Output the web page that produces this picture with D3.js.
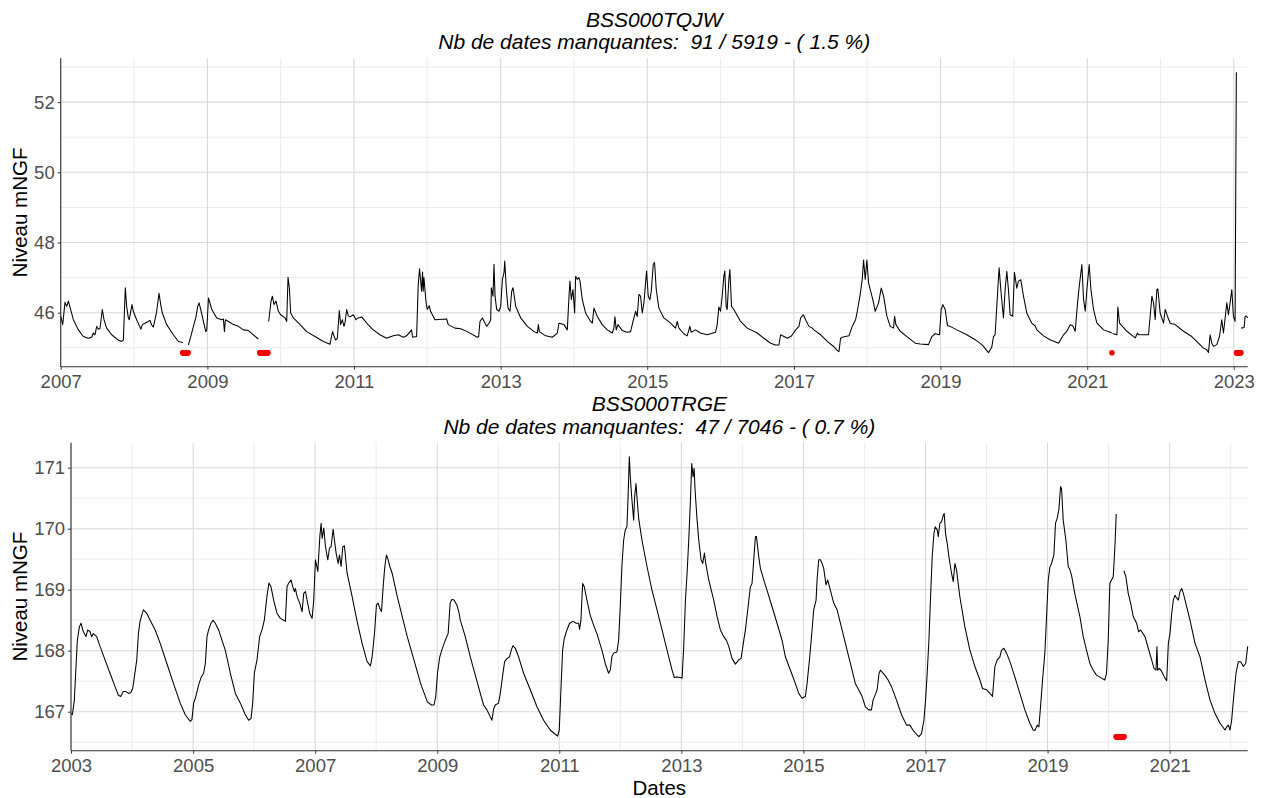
<!DOCTYPE html>
<html>
<head>
<meta charset="utf-8">
<script src="https://cdn.jsdelivr.net/npm/d3@7"></script>
<style>
  html, body { margin: 0; padding: 0; background: #fff; }
  svg { display: block; font-family: "Liberation Sans", Arial, sans-serif; }
  .ptitle { font-style: italic; font-size: 21px; fill: #000; white-space: pre; }
  .atitle { font-size: 20.5px; fill: #000; }
  .tick text { font-size: 18.5px; fill: #4d4d4d; font-family: "Liberation Sans", Arial, sans-serif; }
</style>
</head>
<body>
<svg id="chart" width="1262" height="798"></svg>
<script>
// ---------------- DATA ----------------
// Station BSS000TQJW : [decimal year, level mNGF]; null = break in the record
const tqjwSeries = [
[2007.000,45.91],[2007.027,45.66],[2007.059,46.30],[2007.082,46.18],[2007.105,46.33],[2007.118,46.23],[2007.136,46.09],[2007.173,45.80],[2007.241,45.51],[2007.309,45.32],[2007.377,45.27],[2007.423,45.30],[2007.445,45.42],[2007.468,45.37],[2007.491,45.61],[2007.514,45.53],[2007.536,45.55],[2007.568,46.09],[2007.591,45.80],[2007.627,45.56],[2007.695,45.37],[2007.786,45.22],[2007.832,45.18],[2007.855,45.22],[2007.868,45.94],[2007.882,46.71],[2007.900,46.18],[2007.923,45.85],[2007.936,45.80],[2007.973,46.23],[2007.991,46.04],[2008.036,45.80],[2008.095,45.53],[2008.114,45.66],[2008.150,45.70],[2008.195,45.75],[2008.218,45.78],[2008.241,45.65],[2008.264,45.59],[2008.286,45.80],[2008.309,46.04],[2008.341,46.55],[2008.364,46.23],[2008.386,45.99],[2008.445,45.66],[2008.536,45.37],[2008.605,45.18],[2008.664,45.15],
null,
[2008.741,45.08],[2008.773,45.32],[2008.809,45.61],[2008.841,45.85],[2008.868,46.18],[2008.886,46.28],[2008.909,46.09],[2008.945,45.75],[2008.977,45.46],[2008.991,45.51],[2009.014,46.42],[2009.027,46.33],[2009.059,46.09],[2009.127,45.85],[2009.195,45.80],[2009.218,45.82],[2009.232,45.46],[2009.245,45.80],[2009.309,45.72],[2009.355,45.66],[2009.423,45.61],[2009.491,45.51],[2009.559,45.49],[2009.627,45.37],[2009.695,45.25],
null,
[2009.836,45.75],[2009.868,46.33],[2009.886,46.47],[2009.909,46.23],[2009.936,46.33],[2009.968,46.04],[2010.000,45.94],[2010.059,45.85],[2010.082,45.75],[2010.100,47.01],[2010.118,46.71],[2010.136,45.99],[2010.173,45.85],[2010.264,45.66],[2010.355,45.46],[2010.468,45.32],[2010.582,45.18],[2010.673,45.10],[2010.695,45.34],[2010.709,45.46],[2010.727,45.34],[2010.750,45.22],[2010.773,45.27],[2010.800,46.06],[2010.818,45.66],[2010.841,45.80],[2010.864,45.61],[2010.877,45.70],[2010.900,46.09],[2010.923,45.91],[2010.945,45.88],[2010.991,45.94],[2011.027,45.80],[2011.059,45.85],[2011.105,45.88],[2011.136,45.80],[2011.195,45.65],[2011.264,45.51],[2011.355,45.37],[2011.445,45.27],[2011.536,45.34],[2011.605,45.37],[2011.673,45.30],[2011.718,45.34],[2011.786,45.51],[2011.800,45.30],[2011.855,45.32],[2011.877,46.80],[2011.895,47.25],[2011.923,46.61],[2011.936,47.16],[2011.945,46.61],[2011.955,47.00],[2011.982,46.33],[2012.000,46.09],[2012.027,46.20],[2012.045,46.04],[2012.105,45.80],[2012.264,45.82],[2012.286,45.66],[2012.377,45.56],[2012.455,45.54],[2012.545,45.46],[2012.682,45.30],[2012.700,45.32],[2012.718,45.75],[2012.750,45.85],[2012.775,45.75],[2012.809,45.61],[2012.841,45.70],[2012.864,45.80],[2012.873,46.71],[2012.895,46.47],[2012.909,47.38],[2012.923,46.47],[2012.945,46.09],[2012.977,46.04],[2013.000,46.18],[2013.023,46.95],[2013.045,47.14],[2013.055,47.47],[2013.077,46.66],[2013.100,46.13],[2013.127,46.04],[2013.150,46.61],[2013.168,46.71],[2013.205,46.18],[2013.273,45.85],[2013.364,45.61],[2013.455,45.46],[2013.500,45.42],[2013.514,45.66],[2013.527,45.46],[2013.614,45.34],[2013.705,45.30],[2013.773,45.42],[2013.795,45.70],[2013.864,45.66],[2013.909,45.51],[2013.932,46.47],[2013.945,46.90],[2013.964,46.37],[2013.986,46.66],[2014.009,45.99],[2014.023,47.04],[2014.045,46.95],[2014.068,47.00],[2014.082,46.90],[2014.114,46.37],[2014.159,45.99],[2014.227,45.75],[2014.250,45.70],[2014.273,46.13],[2014.318,45.89],[2014.386,45.66],[2014.455,45.51],[2014.523,45.42],[2014.545,45.56],[2014.559,45.88],[2014.577,45.51],[2014.600,45.66],[2014.659,45.49],[2014.727,45.44],[2014.773,45.46],[2014.809,45.78],[2014.841,46.04],[2014.864,45.89],[2014.886,46.52],[2014.909,46.47],[2014.932,45.99],[2014.955,46.28],[2014.977,46.85],[2014.991,47.19],[2015.014,46.47],[2015.036,46.37],[2015.055,46.61],[2015.082,47.38],[2015.100,47.43],[2015.123,46.66],[2015.159,46.13],[2015.227,45.85],[2015.318,45.70],[2015.386,45.56],[2015.409,45.75],[2015.432,45.56],[2015.500,45.40],[2015.545,45.34],[2015.582,45.61],[2015.600,45.44],[2015.659,45.51],[2015.727,45.42],[2015.818,45.37],[2015.932,45.44],[2015.955,45.66],[2015.977,46.16],[2016.000,46.04],[2016.023,46.47],[2016.045,47.04],[2016.059,47.19],[2016.077,46.18],[2016.091,46.09],[2016.114,46.95],[2016.127,47.23],[2016.150,46.18],[2016.182,46.09],[2016.273,45.75],[2016.364,45.56],[2016.500,45.42],[2016.591,45.27],[2016.682,45.13],[2016.750,45.08],[2016.795,45.08],[2016.818,45.37],[2016.864,45.32],[2016.909,45.27],[2016.955,45.32],[2016.977,45.37],[2017.023,45.51],[2017.068,45.61],[2017.091,45.85],[2017.127,45.94],[2017.159,45.80],[2017.205,45.61],[2017.250,45.56],[2017.273,45.51],[2017.364,45.37],[2017.455,45.18],[2017.545,45.03],[2017.591,44.92],[2017.614,44.89],[2017.636,45.27],[2017.659,45.30],[2017.750,45.34],[2017.795,45.61],[2017.841,45.80],[2017.864,46.04],[2017.900,46.47],[2017.932,46.95],[2017.950,47.50],[2017.973,46.95],[2017.995,47.50],[2018.018,46.85],[2018.041,46.66],[2018.064,46.47],[2018.086,46.28],[2018.109,46.04],[2018.155,46.28],[2018.191,46.70],[2018.223,46.47],[2018.268,45.90],[2018.314,45.61],[2018.359,45.56],[2018.373,45.90],[2018.391,45.66],[2018.450,45.47],[2018.541,45.32],[2018.655,45.13],[2018.723,45.11],[2018.836,45.09],[2018.882,45.32],[2018.927,45.40],[2018.986,45.37],[2019.009,46.09],[2019.032,46.23],[2019.064,46.09],[2019.095,45.63],[2019.132,45.61],[2019.223,45.51],[2019.359,45.37],[2019.473,45.23],[2019.564,45.09],[2019.586,45.04],[2019.655,44.86],[2019.700,45.02],[2019.723,45.32],[2019.745,45.37],[2019.768,46.18],[2019.800,47.28],[2019.823,46.66],[2019.859,45.85],[2019.882,46.66],[2019.905,47.18],[2019.927,46.66],[2019.950,45.94],[2019.986,45.90],[2020.009,47.15],[2020.041,46.70],[2020.064,46.90],[2020.095,46.94],[2020.132,46.47],[2020.177,45.99],[2020.245,45.70],[2020.291,45.62],[2020.314,45.51],[2020.405,45.34],[2020.495,45.23],[2020.609,45.13],[2020.677,45.37],[2020.723,45.47],[2020.768,45.66],[2020.805,45.62],[2020.836,45.47],[2020.868,46.28],[2020.891,46.75],[2020.927,47.37],[2020.950,46.37],[2020.973,46.04],[2020.995,46.66],[2021.027,47.37],[2021.050,46.66],[2021.086,46.09],[2021.132,45.70],[2021.223,45.51],[2021.314,45.44],[2021.334,45.42],
null,
[2021.345,45.41],[2021.405,45.37],[2021.418,46.16],[2021.441,45.70],[2021.541,45.47],[2021.655,45.28],[2021.686,45.42],[2021.700,45.37],[2021.836,45.37],[2021.859,45.90],[2021.882,46.47],[2021.905,46.28],[2021.927,45.80],[2021.950,46.66],[2021.964,46.68],[2021.995,45.99],[2022.041,45.70],[2022.064,46.09],[2022.095,45.90],[2022.132,45.70],[2022.200,45.66],[2022.314,45.47],[2022.427,45.32],[2022.518,45.13],[2022.586,44.99],[2022.632,44.94],[2022.655,44.87],[2022.677,45.37],[2022.700,45.13],[2022.723,45.04],[2022.768,45.09],[2022.805,45.32],[2022.836,45.80],[2022.859,45.42],[2022.905,46.28],[2022.927,45.94],[2022.950,46.28],[2022.973,46.66],[2022.995,45.90],[2023.018,45.75],[2023.035,52.85],
null,
[2023.100,45.56],[2023.141,45.58],[2023.155,45.90],[2023.172,45.90],[2023.190,45.85]
];

// Station BSS000TRGE
const trgeSeries = [
[2003.000,166.97],[2003.022,166.95],[2003.055,167.19],[2003.082,167.74],[2003.104,168.17],[2003.137,168.39],[2003.164,168.45],[2003.192,168.34],[2003.219,168.28],[2003.246,168.23],[2003.274,168.34],[2003.312,168.31],[2003.339,168.23],[2003.367,168.28],[2003.421,168.23],[2003.476,168.07],[2003.558,167.85],[2003.640,167.63],[2003.722,167.41],[2003.777,167.27],[2003.815,167.25],[2003.859,167.33],[2003.903,167.33],[2003.941,167.30],[2003.979,167.31],[2004.012,167.38],[2004.039,167.57],[2004.078,167.85],[2004.105,168.28],[2004.132,168.48],[2004.159,168.58],[2004.187,168.67],[2004.242,168.61],[2004.297,168.50],[2004.379,168.34],[2004.461,168.12],[2004.570,167.79],[2004.679,167.46],[2004.789,167.14],[2004.871,166.95],[2004.953,166.84],[2004.980,166.87],[2005.008,167.14],[2005.036,167.22],[2005.090,167.44],[2005.134,167.57],[2005.172,167.63],[2005.200,167.79],[2005.227,168.23],[2005.254,168.34],[2005.292,168.45],[2005.325,168.50],[2005.363,168.45],[2005.418,168.34],[2005.473,168.17],[2005.527,168.01],[2005.610,167.63],[2005.692,167.30],[2005.774,167.14],[2005.856,166.95],[2005.910,166.86],[2005.949,166.89],[2005.976,167.14],[2006.003,167.63],[2006.047,167.85],[2006.090,168.23],[2006.129,168.34],[2006.167,168.50],[2006.210,168.89],[2006.243,169.11],[2006.276,169.05],[2006.320,168.83],[2006.375,168.61],[2006.430,168.53],[2006.484,168.50],[2006.512,168.48],[2006.539,169.05],[2006.567,169.11],[2006.605,169.16],[2006.632,169.05],[2006.660,168.97],[2006.676,169.02],[2006.703,168.89],[2006.747,168.78],[2006.786,168.64],[2006.813,168.94],[2006.840,168.97],[2006.868,168.83],[2006.911,168.61],[2006.950,168.53],[2006.977,168.83],[2007.005,169.49],[2007.044,169.30],[2007.077,169.87],[2007.098,170.09],[2007.115,169.84],[2007.142,170.01],[2007.170,169.70],[2007.208,169.49],[2007.235,169.68],[2007.262,169.71],[2007.295,169.99],[2007.317,169.81],[2007.344,169.60],[2007.377,169.43],[2007.399,169.57],[2007.426,169.38],[2007.453,169.70],[2007.480,169.72],[2007.524,169.27],[2007.606,168.89],[2007.688,168.48],[2007.770,168.12],[2007.852,167.82],[2007.907,167.75],[2007.934,167.90],[2007.973,168.28],[2008.005,168.75],[2008.033,168.78],[2008.060,168.69],[2008.088,168.64],[2008.115,169.05],[2008.142,169.38],[2008.169,169.57],[2008.191,169.51],[2008.224,169.38],[2008.262,169.27],[2008.345,168.89],[2008.427,168.56],[2008.509,168.23],[2008.618,167.85],[2008.728,167.46],[2008.838,167.16],[2008.903,167.11],[2008.947,167.11],[2008.975,167.25],[2009.003,167.63],[2009.041,167.90],[2009.074,168.01],[2009.112,168.12],[2009.156,168.23],[2009.178,168.28],[2009.211,168.78],[2009.238,168.84],[2009.276,168.83],[2009.320,168.75],[2009.358,168.61],[2009.377,168.50],[2009.459,168.23],[2009.541,167.90],[2009.623,167.60],[2009.705,167.30],[2009.760,167.11],[2009.814,167.03],[2009.896,166.86],[2009.923,167.04],[2009.951,167.11],[2010.005,167.14],[2010.033,167.30],[2010.077,167.63],[2010.104,167.82],[2010.142,167.87],[2010.186,167.90],[2010.213,168.01],[2010.240,168.08],[2010.279,168.04],[2010.333,167.90],[2010.415,167.63],[2010.525,167.36],[2010.634,167.08],[2010.743,166.86],[2010.852,166.70],[2010.934,166.63],[2010.973,166.60],[2011.000,166.70],[2011.027,167.36],[2011.055,168.01],[2011.082,168.20],[2011.126,168.34],[2011.169,168.45],[2011.224,168.48],[2011.279,168.45],[2011.317,168.45],[2011.333,168.35],[2011.355,168.50],[2011.383,169.10],[2011.410,169.05],[2011.454,168.83],[2011.508,168.58],[2011.563,168.42],[2011.617,168.28],[2011.699,168.01],[2011.754,167.79],[2011.809,167.63],[2011.836,167.68],[2011.863,167.90],[2011.891,167.96],[2011.945,167.98],[2011.973,168.17],[2012.000,168.72],[2012.027,169.38],[2012.055,169.81],[2012.082,169.98],[2012.109,170.03],[2012.126,170.47],[2012.148,171.18],[2012.164,170.85],[2012.191,170.47],[2012.219,170.14],[2012.235,170.52],[2012.257,170.74],[2012.273,170.52],[2012.301,170.17],[2012.355,169.81],[2012.437,169.38],[2012.519,168.99],[2012.601,168.67],[2012.683,168.34],[2012.765,168.01],[2012.847,167.68],[2012.885,167.56],[2012.929,167.57],[2012.984,167.56],[2013.011,167.55],[2013.038,168.07],[2013.066,168.83],[2013.093,169.27],[2013.120,169.81],[2013.148,170.47],[2013.169,171.07],[2013.191,170.85],[2013.208,170.99],[2013.224,170.63],[2013.257,170.14],[2013.284,169.81],[2013.322,169.49],[2013.350,169.43],[2013.377,169.60],[2013.399,169.43],[2013.448,169.16],[2013.530,168.83],[2013.585,168.56],[2013.639,168.34],[2013.694,168.23],[2013.738,168.17],[2013.776,168.07],[2013.831,167.87],[2013.885,167.78],[2013.940,167.85],[2013.978,167.87],[2014.022,168.17],[2014.049,168.34],[2014.093,168.72],[2014.131,169.05],[2014.158,169.10],[2014.186,169.49],[2014.213,169.87],[2014.230,169.87],[2014.268,169.54],[2014.295,169.35],[2014.350,169.16],[2014.404,168.99],[2014.486,168.72],[2014.568,168.45],[2014.650,168.17],[2014.705,167.90],[2014.787,167.68],[2014.869,167.46],[2014.923,167.30],[2014.978,167.22],[2015.033,167.25],[2015.060,167.46],[2015.104,167.90],[2015.142,168.34],[2015.169,168.67],[2015.208,168.83],[2015.224,169.16],[2015.251,169.49],[2015.279,169.49],[2015.306,169.43],[2015.333,169.35],[2015.371,169.08],[2015.399,169.16],[2015.443,168.99],[2015.497,168.78],[2015.552,168.67],[2015.634,168.34],[2015.716,168.01],[2015.798,167.68],[2015.852,167.46],[2015.907,167.36],[2015.962,167.25],[2016.016,167.08],[2016.071,167.03],[2016.115,167.03],[2016.142,167.19],[2016.186,167.30],[2016.208,167.36],[2016.240,167.63],[2016.262,167.68],[2016.290,167.65],[2016.333,167.60],[2016.388,167.52],[2016.443,167.41],[2016.525,167.19],[2016.607,166.95],[2016.689,166.78],[2016.743,166.78],[2016.798,166.69],[2016.852,166.63],[2016.891,166.59],[2016.934,166.64],[2016.973,166.86],[2017.000,167.19],[2017.027,167.63],[2017.055,168.17],[2017.082,168.88],[2017.109,169.54],[2017.137,169.92],[2017.158,170.03],[2017.191,169.98],[2017.208,169.87],[2017.235,170.09],[2017.262,170.11],[2017.290,170.22],[2017.306,170.25],[2017.328,169.92],[2017.355,169.76],[2017.383,169.54],[2017.426,169.27],[2017.454,169.13],[2017.481,169.43],[2017.508,169.32],[2017.563,168.88],[2017.645,168.39],[2017.727,168.01],[2017.809,167.74],[2017.891,167.52],[2017.934,167.38],[2018.000,167.36],[2018.055,167.30],[2018.098,167.25],[2018.137,167.74],[2018.175,167.85],[2018.219,167.90],[2018.246,168.01],[2018.284,168.04],[2018.328,167.96],[2018.383,167.82],[2018.464,167.57],[2018.546,167.30],[2018.628,167.03],[2018.710,166.81],[2018.765,166.70],[2018.792,166.69],[2018.831,166.78],[2018.858,166.75],[2018.885,167.08],[2018.918,167.52],[2018.956,167.96],[2018.984,168.56],[2019.011,169.15],[2019.038,169.37],[2019.066,169.43],[2019.104,169.57],[2019.131,170.09],[2019.158,170.17],[2019.186,170.31],[2019.213,170.69],[2019.230,170.66],[2019.257,170.14],[2019.301,169.81],[2019.339,169.38],[2019.366,169.33],[2019.393,169.24],[2019.448,168.93],[2019.530,168.56],[2019.585,168.23],[2019.639,168.01],[2019.694,167.79],[2019.749,167.68],[2019.803,167.60],[2019.885,167.55],[2019.940,167.52],[2019.967,167.63],[2019.995,168.17],[2020.022,169.10],[2020.049,169.16],[2020.077,169.21],[2020.104,169.70],[2020.126,170.24],
null,
[2020.251,169.31],[2020.284,169.21],[2020.322,168.94],[2020.361,168.78],[2020.404,168.56],[2020.459,168.45],[2020.492,168.31],[2020.525,168.34],[2020.557,168.29],[2020.596,168.23],[2020.650,168.04],[2020.705,167.85],[2020.743,167.71],[2020.776,167.68],[2020.792,168.07],[2020.803,167.68],[2020.831,167.71],[2020.869,167.66],[2020.923,167.55],[2020.951,167.51],[2020.978,168.12],[2021.005,168.28],[2021.033,168.61],[2021.060,168.83],[2021.087,168.91],[2021.115,168.86],[2021.142,168.83],[2021.169,168.97],[2021.197,169.02],[2021.224,168.94],[2021.279,168.72],[2021.333,168.50],[2021.415,168.12],[2021.497,167.90],[2021.579,167.52],[2021.661,167.19],[2021.743,166.97],[2021.825,166.81],[2021.907,166.70],[2021.934,166.75],[2021.962,166.78],[2021.989,166.70],[2022.016,166.86],[2022.044,167.19],[2022.087,167.63],[2022.126,167.82],[2022.164,167.82],[2022.208,167.74],[2022.246,167.79],[2022.279,168.07]
];

// Missing-date periods (first day, last day), shown as red points
const tqjwMissing = [["2008-08-31","2008-09-26"],["2009-09-19","2009-10-29"],["2021-05-04","2021-05-04"],["2023-01-15","2023-02-05"]];
const trgeMissing = [["2020-02-16","2020-04-02"]];

const tqjwTitle = "BSS000TQJW";
const tqjwSubtitle = "Nb de dates manquantes:  91 / 5919 - ( 1.5 %)";
const trgeTitle = "BSS000TRGE";
const trgeSubtitle = "Nb de dates manquantes:  47 / 7046 - ( 0.7 %)";

const tqjwYearTicks = [2007, 2009, 2011, 2013, 2015, 2017, 2019, 2021, 2023];
const tqjwYearMinor = [2008, 2010, 2012, 2014, 2016, 2018, 2020, 2022];
const tqjwYTicks = [46, 48, 50, 52];
const tqjwYMinor = [45, 47, 49, 51, 53];

const trgeYearTicks = [2003, 2005, 2007, 2009, 2011, 2013, 2015, 2017, 2019, 2021];
const trgeYearMinor = [2004, 2006, 2008, 2010, 2012, 2014, 2016, 2018, 2020, 2022];
const trgeYTicks = [167, 168, 169, 170, 171];
const trgeYMinor = [166.5, 167.5, 168.5, 169.5, 170.5];

const yLabel = "Niveau mNGF";
const xLabel = "Dates";

// ---------------- HELPERS ----------------
function toDate(y) {
  const yr = Math.floor(y);
  const s = Date.UTC(yr, 0, 1), e = Date.UTC(yr + 1, 0, 1);
  return new Date(s + (y - yr) * (e - s));
}
const parseDay = d3.utcParse("%Y-%m-%d");

const svg = d3.select("#chart");

function drawPanel(cfg) {
  const { box, series, missing, yearTicks, yearMinor, yTicks, yMinor, title, subtitle } = cfg;
  const pts = series.filter(d => d !== null);
  const xs = pts.map(d => toDate(d[0]));
  const vals = pts.map(d => d[1]);
  const vmin = d3.min(vals), vmax = d3.max(vals);
  const pad = (vmax - vmin) * 0.05;

  const x = d3.scaleUtc().domain(d3.extent(xs)).range([box.left, box.right]);
  const y = d3.scaleLinear().domain([vmin - pad, vmax + pad]).range([box.bottom, box.top]);

  const g = svg.append("g");

  // minor grid
  g.append("g").selectAll("line").data(yMinor).join("line")
    .attr("x1", box.left).attr("x2", box.right)
    .attr("y1", d => y(d)).attr("y2", d => y(d))
    .attr("stroke", "#ececec").attr("stroke-width", 1);
  g.append("g").selectAll("line").data(yearMinor).join("line")
    .attr("x1", d => x(toDate(d))).attr("x2", d => x(toDate(d)))
    .attr("y1", box.top).attr("y2", box.bottom)
    .attr("stroke", "#ececec").attr("stroke-width", 1);
  // major grid
  g.append("g").selectAll("line").data(yTicks).join("line")
    .attr("x1", box.left).attr("x2", box.right)
    .attr("y1", d => y(d)).attr("y2", d => y(d))
    .attr("stroke", "#d9d9d9").attr("stroke-width", 1.1);
  g.append("g").selectAll("line").data(yearTicks).join("line")
    .attr("x1", d => x(toDate(d))).attr("x2", d => x(toDate(d)))
    .attr("y1", box.top).attr("y2", box.bottom)
    .attr("stroke", "#d9d9d9").attr("stroke-width", 1.1);

  // series line
  const line = d3.line()
    .defined(d => d !== null)
    .x(d => x(toDate(d[0])))
    .y(d => y(d[1]));
  g.append("path").datum(series)
    .attr("d", line)
    .attr("fill", "none")
    .attr("stroke", "#000")
    .attr("stroke-width", 1.05)
    .attr("stroke-linejoin", "round");

  // missing dates (red points at the series minimum)
  const days = [];
  missing.forEach(([a, b]) => {
    d3.utcDay.range(parseDay(a), d3.utcDay.offset(parseDay(b), 1)).forEach(d => days.push(d));
  });
  g.append("g").selectAll("circle").data(days).join("circle")
    .attr("cx", d => x(d)).attr("cy", y(vmin))
    .attr("r", 2.8).attr("fill", "#ff0000");

  // axes
  const xAxis = d3.axisBottom(x)
    .tickValues(yearTicks.map(toDate))
    .tickFormat(d3.utcFormat("%Y"))
    .tickSize(3).tickPadding(5);
  const xg = g.append("g").attr("transform", `translate(0,${box.bottom})`).call(xAxis);
  xg.select(".domain").remove();
  xg.selectAll(".tick line").attr("stroke", "#333");
  g.append("line").attr("x1", box.left).attr("x2", box.right)
    .attr("y1", box.bottom).attr("y2", box.bottom)
    .attr("stroke", "#333").attr("stroke-width", 1.1);

  const yAxis = d3.axisLeft(y).tickValues(yTicks).tickFormat(d3.format("d"))
    .tickSize(3).tickPadding(3);
  const yg = g.append("g").attr("transform", `translate(${box.left},0)`).call(yAxis);
  yg.select(".domain").remove();
  yg.selectAll(".tick line").attr("stroke", "#333");
  g.append("line").attr("x1", box.left).attr("x2", box.left)
    .attr("y1", box.top).attr("y2", box.bottom)
    .attr("stroke", "#333").attr("stroke-width", 1.1);

  // titles
  const cx = (box.left + box.right) / 2;
  g.append("text").attr("class", "ptitle").attr("x", cx).attr("y", box.top - 31.6)
    .attr("text-anchor", "middle").text(title);
  g.append("text").attr("class", "ptitle").attr("x", cx).attr("y", box.top - 9)
    .attr("text-anchor", "middle").text(subtitle);

  // y axis title
  const cy = (box.top + box.bottom) / 2;
  g.append("text").attr("class", "atitle")
    .attr("transform", `translate(27,${cy}) rotate(-90)`)
    .attr("text-anchor", "middle").text(yLabel);

  return { x, y, box };
}

drawPanel({
  box: { left: 60.7, right: 1247.7, top: 58.3, bottom: 366.7 },
  series: tqjwSeries, missing: tqjwMissing,
  yearTicks: tqjwYearTicks, yearMinor: tqjwYearMinor,
  yTicks: tqjwYTicks, yMinor: tqjwYMinor,
  title: tqjwTitle, subtitle: tqjwSubtitle
});
const bottomPanel = drawPanel({
  box: { left: 71, right: 1247.7, top: 442.7, bottom: 750.7 },
  series: trgeSeries, missing: trgeMissing,
  yearTicks: trgeYearTicks, yearMinor: trgeYearMinor,
  yTicks: trgeYTicks, yMinor: trgeYMinor,
  title: trgeTitle, subtitle: trgeSubtitle
});

svg.append("text").attr("class", "atitle")
  .attr("x", (bottomPanel.box.left + bottomPanel.box.right) / 2)
  .attr("y", 795).attr("text-anchor", "middle").text(xLabel);
</script>
</body>
</html>
